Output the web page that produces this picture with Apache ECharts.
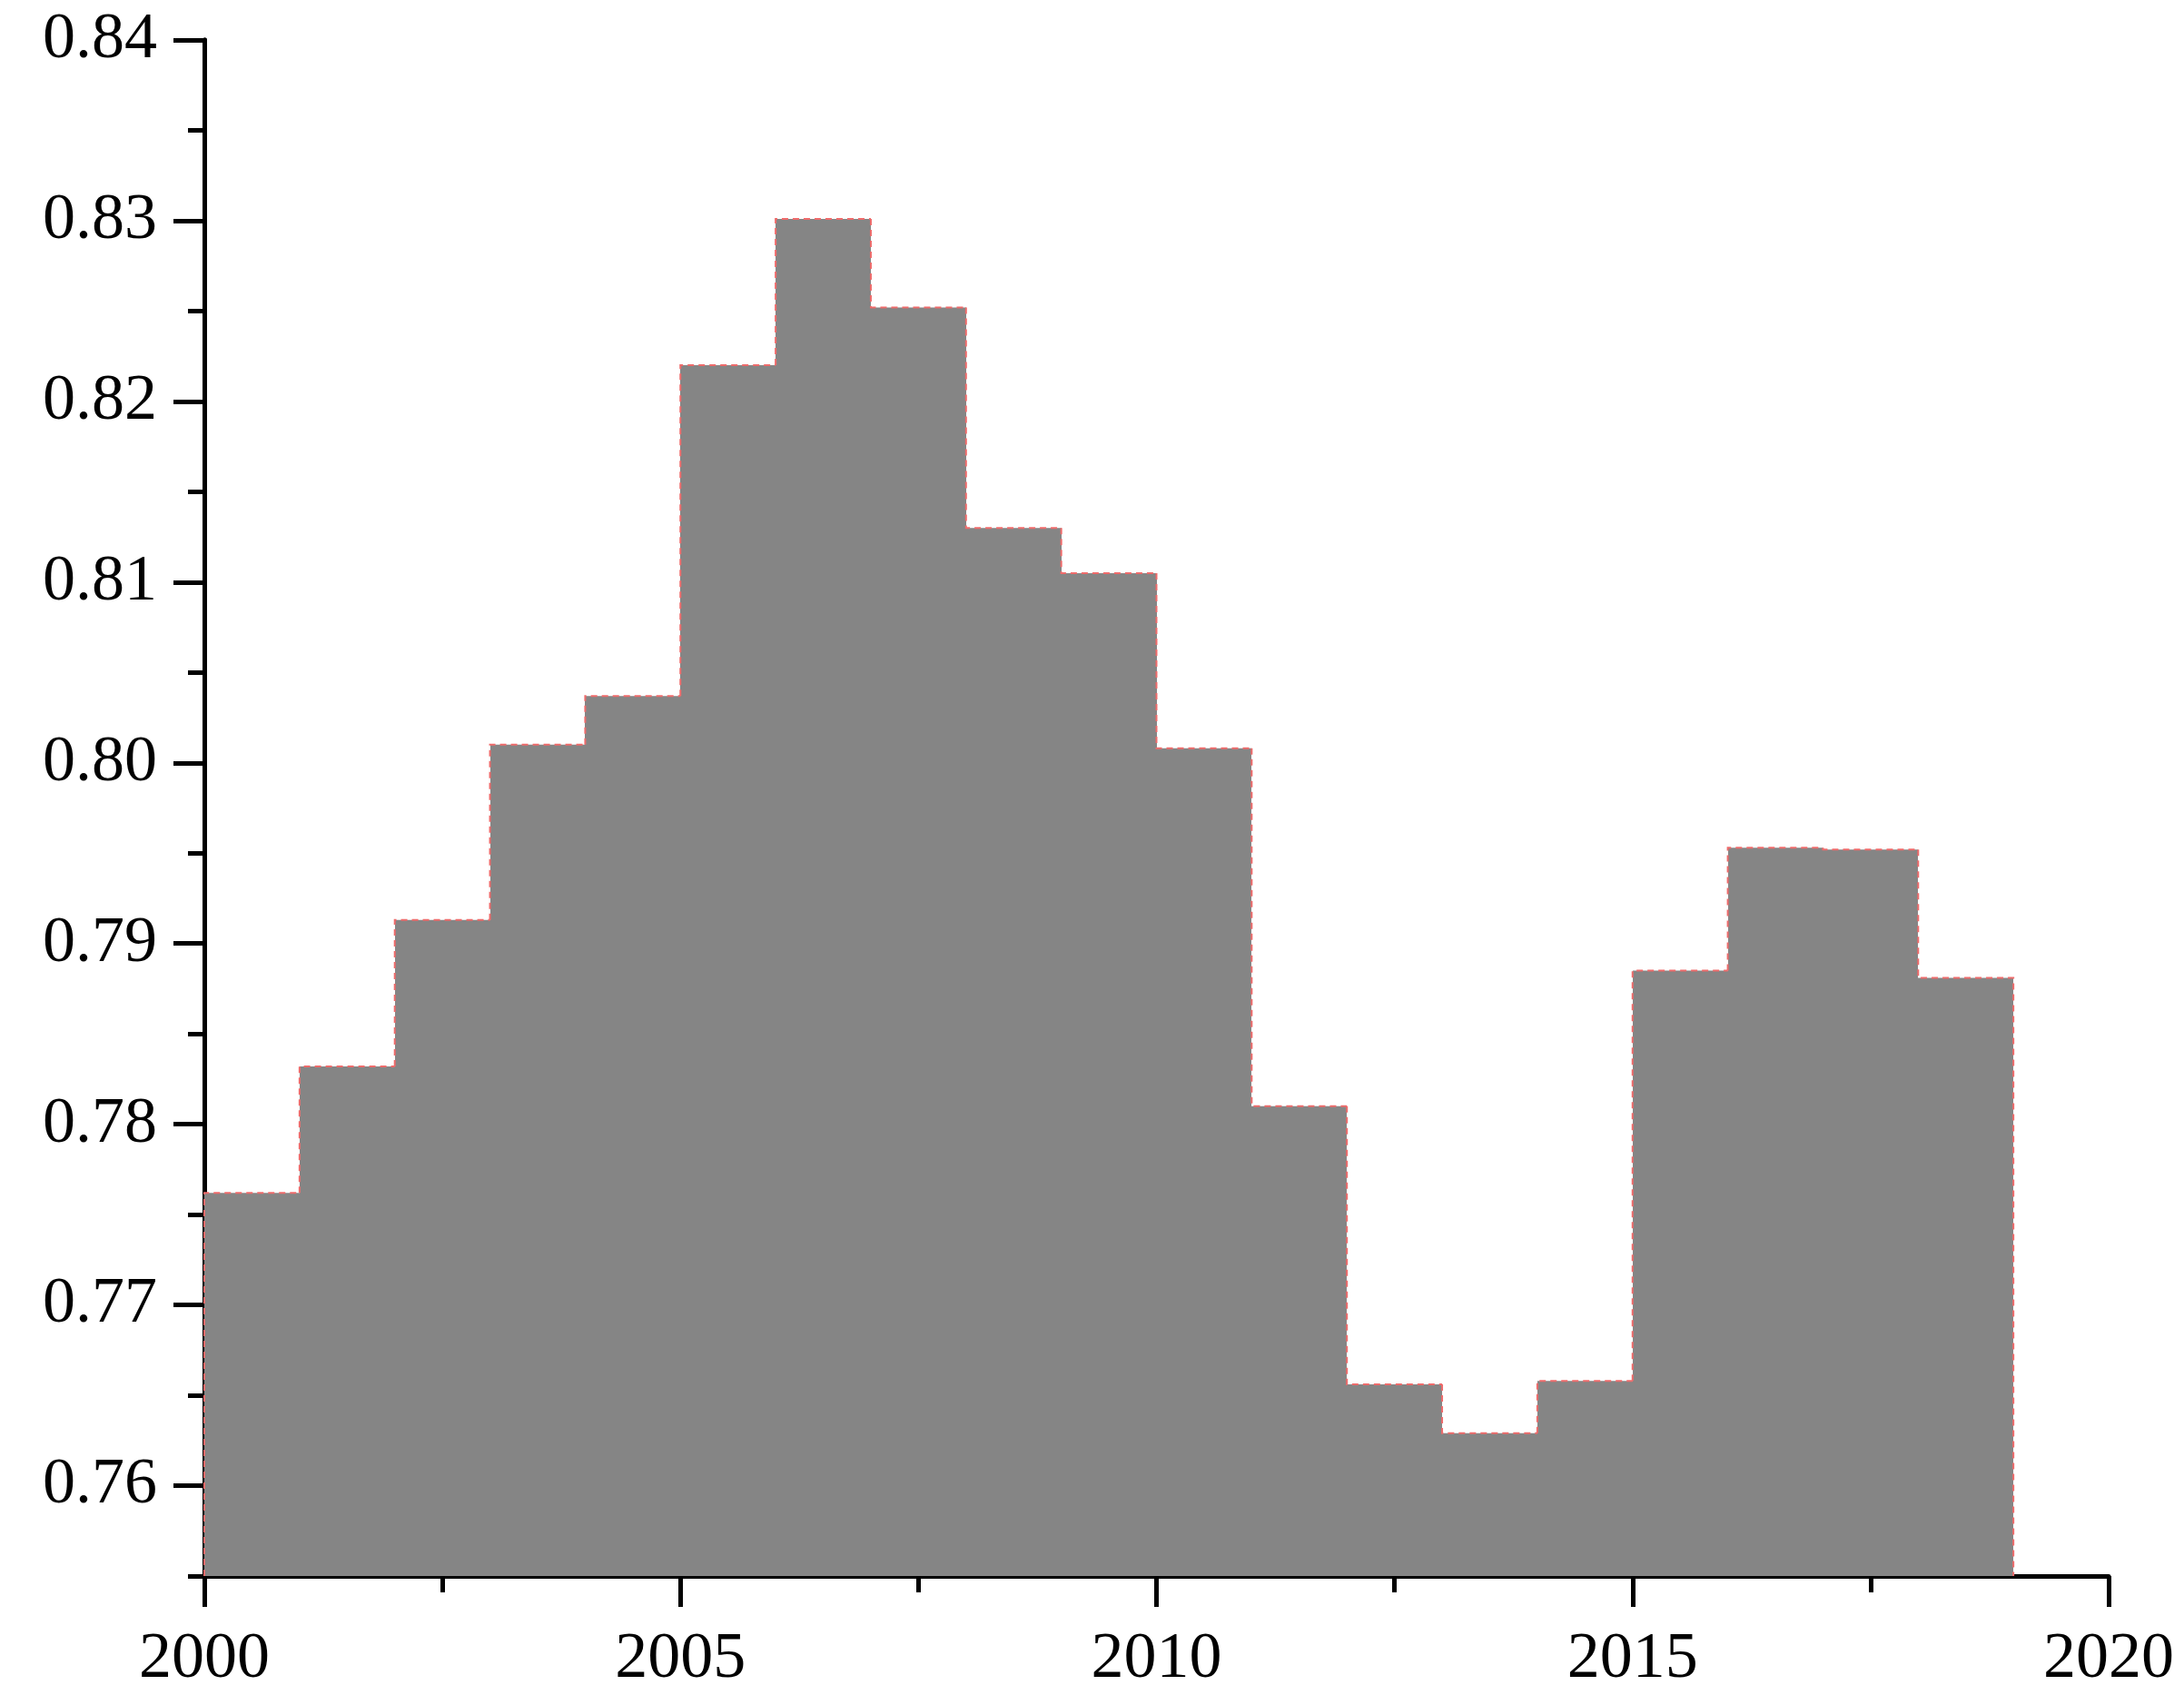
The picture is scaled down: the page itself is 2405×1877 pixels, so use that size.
<!DOCTYPE html>
<html>
<head>
<meta charset="utf-8">
<script src="https://cdn.jsdelivr.net/npm/echarts@6/dist/echarts.min.js"></script>
<style>
html,body{margin:0;padding:0;background:#fff;}
#chart{width:2405px;height:1877px;}
</style>
</head>
<body>
<div id="chart"></div>
<script>
// Data
const years = [2000,2001,2002,2003,2004,2005,2006,2007,2008,2009,2010,2011,2012,2013,2014,2015,2016,2017,2018];
const values = [0.7762,0.7832,0.7913,0.8010,0.8037,0.8220,0.8301,0.8252,0.8130,0.8105,0.8008,0.7810,0.7656,0.7629,0.7658,0.7885,0.7953,0.7952,0.7881];
const yMajorTicks = [0.76,0.77,0.78,0.79,0.80,0.81,0.82,0.83,0.84];
const yMinorTicks = [0.755,0.765,0.775,0.785,0.795,0.805,0.815,0.825,0.835];
const yMin = 0.755, yMax = 0.84;
const xMin = 2000, xMax = 2020;

const barData = years.map((y, i) => [y, y + 1, values[i], i === 0 ? yMin : values[i - 1], i === years.length - 1 ? 1 : 0]);

const fontFamily = "'Liberation Serif', 'DejaVu Serif', serif";
const labelStyle = {color: '#000', fontFamily: fontFamily, fontSize: 72};

const chart = echarts.init(document.getElementById('chart'));
chart.setOption({
  animation: false,
  backgroundColor: '#fff',
  grid: {left: 225, right: 83, top: 44, bottom: 142, containLabel: false},
  xAxis: {
    type: 'value', min: xMin, max: xMax, interval: 5,
    axisLine: {show: true, onZero: false, lineStyle: {color: '#000', width: 5}},
    axisTick: {show: true, length: 34, lineStyle: {color: '#000', width: 5}},
    minorTick: {show: true, splitNumber: 2, length: 18, lineStyle: {color: '#000', width: 5}},
    splitLine: {show: false},
    minorSplitLine: {show: false},
    axisLabel: Object.assign({margin: 56, formatter: v => String(v)}, labelStyle)
  },
  yAxis: [{
    type: 'value', min: yMin, max: yMax, interval: 0.005,
    axisLine: {show: true, onZero: false, lineStyle: {color: '#000', width: 5}},
    axisTick: {show: true, length: 34, customValues: yMajorTicks, lineStyle: {color: '#000', width: 5}},
    splitLine: {show: false},
    axisLabel: Object.assign({margin: 52, customValues: yMajorTicks, formatter: v => v.toFixed(2)}, labelStyle)
  }, {
    type: 'value', min: yMin, max: yMax, interval: 0.005, position: 'left',
    axisLine: {show: true, onZero: false, lineStyle: {color: '#000', width: 5}},
    axisTick: {show: true, length: 18, customValues: yMinorTicks, lineStyle: {color: '#000', width: 5}},
    splitLine: {show: false},
    axisLabel: {show: false}
  }],
  series: [{
    type: 'custom',
    data: barData,
    encode: {x: [0, 1], y: 2},
    renderItem: function (params, api) {
      const p0 = api.coord([api.value(0), api.value(2)]);
      const p1 = api.coord([api.value(1), yMin]);
      const x0 = Math.round(p0[0]), x1 = Math.round(p1[0]);
      return {
        type: 'rect',
        shape: {x: x0, y: p0[1], width: x1 - x0, height: p1[1] - p0[1]},
        style: {fill: '#858585', stroke: null}
      };
    },
    z: 2
  }, {
    type: 'custom',
    data: barData,
    encode: {x: [0, 1], y: 2},
    renderItem: function (params, api) {
      const a = api.coord([api.value(0), api.value(3)]);
      const b = api.coord([api.value(0), api.value(2)]);
      const c = api.coord([api.value(1), api.value(2)]);
      const pts = [a, b, c];
      if (api.value(4) === 1) pts.push(api.coord([api.value(1), yMin]));
      return {
        type: 'polyline',
        shape: {points: pts},
        style: {fill: null, stroke: '#ee6b6b', lineWidth: 2, lineDash: [7, 5]}
      };
    },
    z: 3
  }]
});
</script>
</body>
</html>
